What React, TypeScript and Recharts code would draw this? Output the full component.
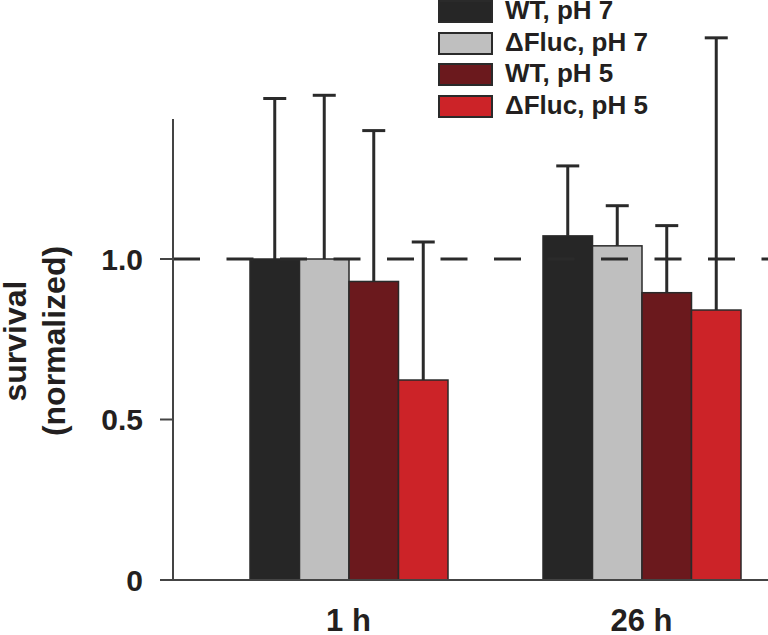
import { BarChart, Bar, XAxis, YAxis, ReferenceLine, Legend } from 'recharts'

/* ── Data ── */
const categories = ['1 h', '26 h']
const wtPh7 = [1.0, 1.072]
const dflucPh7 = [1.0, 1.041]
const wtPh5 = [0.93, 0.895]
const dflucPh5 = [0.623, 0.841]
// upper error only
const wtPh7Err = [0.5, 0.218]
const dflucPh7Err = [0.51, 0.125]
const wtPh5Err = [0.47, 0.209]
const dflucPh5Err = [0.43, 0.848]
const yTicks = [0, 0.5, 1.0]

const data = categories.map((c, i) => ({
  cat: c,
  wt7: wtPh7[i],
  df7: dflucPh7[i],
  wt5: wtPh5[i],
  df5: dflucPh5[i],
  wt7e: wtPh7Err[i],
  df7e: dflucPh7Err[i],
  wt5e: wtPh5Err[i],
  df5e: dflucPh5Err[i],
}))

const FONT = '"Liberation Sans", Arial, Helvetica, sans-serif'
const INK = '#2a2a2a'
const TEXT = '#231f20'

const series = [
  { key: 'wt7', err: 'wt7e', name: 'WT, pH 7', color: '#262626' },
  { key: 'df7', err: 'df7e', name: '\u0394Fluc, pH 7', color: '#bfbfbf' },
  { key: 'wt5', err: 'wt5e', name: 'WT, pH 5', color: '#6b191d' },
  { key: 'df5', err: 'df5e', name: '\u0394Fluc, pH 5', color: '#cc2328' },
]

/* ── Bar with one-sided (upper) error bar, scaled from the bar's own pixel height ── */
function BarWithErr(props: any) {
  const { x, y, width, height, fill, payload, valueKey, errKey } = props
  const value = payload[valueKey]
  const err = payload[errKey]
  const pxPerUnit = value ? height / value : 0
  const cx = x + width / 2
  const top = y - err * pxPerUnit
  return (
    <g>
      <rect x={x} y={y} width={width} height={height} fill={fill} stroke={INK} strokeWidth={1.5} />
      <line x1={cx} y1={y} x2={cx} y2={top} stroke={INK} strokeWidth={3} />
      <line x1={cx - 11.5} y1={top} x2={cx + 11.5} y2={top} stroke={INK} strokeWidth={3} />
    </g>
  )
}

const LegendBox = () => (
  <div style={{ fontFamily: FONT }}>
    {series.map(s => (
      <div key={s.key} style={{ display: 'flex', alignItems: 'flex-start', height: 31.5 }}>
        <div
          style={{
            width: 51,
            height: 19,
            background: s.color,
            border: `2px solid ${INK}`,
          }}
        />
        <span
          style={{
            marginLeft: 12,
            fontSize: 26,
            fontWeight: 700,
            color: TEXT,
            lineHeight: '22px',
            marginTop: -1,
          }}
        >
          {s.name}
        </span>
      </div>
    ))}
  </div>
)

const XTick = ({ x, payload }: { x?: number; payload?: { value: string } }) => (
  <text x={x} y={631} textAnchor="middle" fontFamily={FONT} fontWeight={700} fontSize={31} fill={TEXT}>
    {payload?.value}
  </text>
)

const YTitle = () => (
  <g fontFamily={FONT} fontWeight={700} fontSize={32} fill={TEXT}>
    <text transform="translate(26, 341) rotate(-90)" textAnchor="middle">survival</text>
    <text transform="translate(65, 341) rotate(-90)" textAnchor="middle">(normalized)</text>
  </g>
)

export default function App() {
  // y axis: top of plot at 1.75, visible axis line stops near 1.44
  const plotTop = 18.25
  const plotBottom = 580
  const axisGap = 119 - plotTop
  return (
    <div style={{ position: 'fixed', left: 0, top: 0, width: 768, height: 635, overflow: 'hidden', background: '#fff' }}>
      <BarChart
        width={790}
        height={635}
        data={data}
        barGap={0}
        barSize={49.5}
        margin={{ top: plotTop, right: 2, bottom: 0, left: 0 }}
      >
        <XAxis
          dataKey="cat"
          height={635 - plotBottom}
          padding={{ left: 29, right: 0 }}
          tickLine={false}
          axisLine={{ stroke: '#444', strokeWidth: 2 }}
          tick={<XTick />}
        />
        <YAxis
          width={173}
          domain={[0, 1.75]}
          ticks={yTicks}
          tickFormatter={(v: number) => (v === 0 ? '0' : v.toFixed(1))}
          tickSize={13}
          tickMargin={17}
          tick={{ fill: TEXT, fontSize: 30, fontWeight: 700, fontFamily: FONT }}
          tickLine={{ stroke: '#444', strokeWidth: 2 }}
          axisLine={{ stroke: '#444', strokeWidth: 2, strokeDasharray: `0 ${axisGap} 600` }}
          label={<YTitle />}
        />
        <Legend
          layout="vertical"
          align="center"
          verticalAlign="middle"
          wrapperStyle={{ top: 0, left: 438, width: 330 }}
          content={<LegendBox />}
        />
        {series.map(s => (
          <Bar
            key={s.key}
            dataKey={s.key}
            name={s.name}
            fill={s.color}
            isAnimationActive={false}
            shape={(p: any) => <BarWithErr {...p} valueKey={s.key} errKey={s.err} />}
          />
        ))}
        <ReferenceLine y={1} stroke={INK} strokeWidth={3} strokeDasharray="27 26.5" />
      </BarChart>
    </div>
  )
}
